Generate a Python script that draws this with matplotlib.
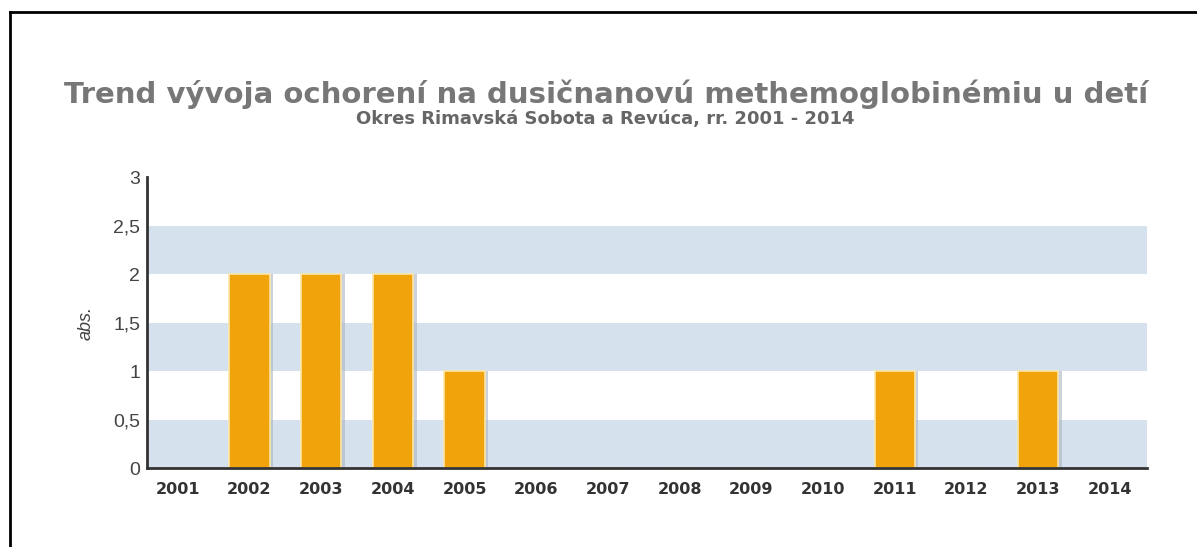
import numpy as np
import matplotlib.pyplot as plt
from matplotlib.lines import Line2D

years = ['2001', '2002', '2003', '2004', '2005', '2006', '2007',
         '2008', '2009', '2010', '2011', '2012', '2013', '2014']
cases = [0, 2, 2, 2, 1, 0, 0, 0, 0, 0, 1, 0, 1, 0]
yticks = [0, 0.5, 1, 1.5, 2, 2.5, 3]
ytick_labels = ['0', '0,5', '1', '1,5', '2', '2,5', '3']
bands = [(0, 0.5), (1, 1.5), (2, 2.5)]

title = "Trend vývoja ochorení na dusičnanovú methemoglobinémiu u detí"
subtitle = "Okres Rimavská Sobota a Revúca, rr. 2001 - 2014"

plt.rcParams['font.family'] = ['Liberation Sans', 'DejaVu Sans']

fig = plt.figure(figsize=(11.97, 5.47), dpi=100)
ax = fig.add_axes([0.1228, 0.1444, 0.8354, 0.532])

x = np.arange(len(years))
for lo, hi in bands:
    ax.axhspan(lo, hi, color='#d6e1ee', zorder=0, lw=0)

# shadow behind bars
vals = np.array(cases, dtype=float)
ax.bar(x + 0.05, vals, width=0.56, color='#aab4c0', alpha=0.6, zorder=1, lw=0)
ax.bar(x, vals, width=0.56, color='#f0a30a', edgecolor='#fde7a8', linewidth=1.2, zorder=2)

ax.set_xlim(-0.43, 13.52)
ax.set_ylim(0, 3)
ax.set_xticks(x)
ax.set_xticklabels(years, fontsize=11.5, fontweight='bold', color='#333333',
                   family='DejaVu Sans')
ax.set_yticks(yticks)
ax.set_yticklabels(ytick_labels, fontsize=14, color='#444444')
ax.tick_params(axis='x', length=0, pad=10)
ax.tick_params(axis='y', length=0, pad=5)

for s in ['top', 'right']:
    ax.spines[s].set_visible(False)
ax.spines['left'].set_color('#333333')
ax.spines['left'].set_linewidth(2)
ax.spines['bottom'].set_color('#333333')
ax.spines['bottom'].set_linewidth(2)

ax.set_ylabel('abs.', fontsize=13, fontstyle='italic', color='#444444', labelpad=13)

fig.text(0.506, 0.828, title, ha='center', va='center', fontsize=21,
         fontweight='bold', color='#777777', family='DejaVu Sans')
fig.text(0.506, 0.783, subtitle, ha='center', va='center', fontsize=13,
         fontweight='bold', color='#666666', family='DejaVu Sans')

fig.add_artist(Line2D([10 / 1197, 1.0], [1 - 12 / 547, 1 - 12 / 547],
                      transform=fig.transFigure, color='black', lw=2))
fig.add_artist(Line2D([10 / 1197, 10 / 1197], [0, 1 - 12 / 547],
                      transform=fig.transFigure, color='black', lw=2))

fig.savefig('out.png', dpi=100)
